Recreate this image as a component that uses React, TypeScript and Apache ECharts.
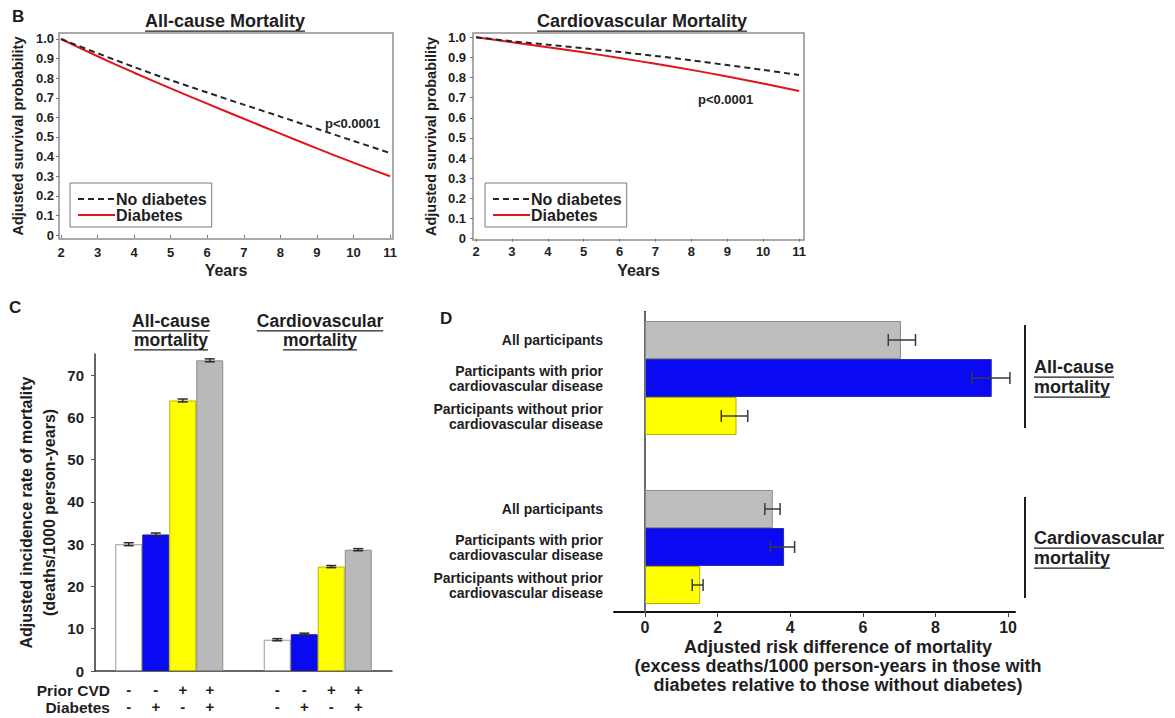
import React, { useEffect, useRef } from 'react';
import * as echarts from 'echarts';

const FONT = '"Liberation Sans", Arial, sans-serif';
const INK = '#1e1e1e';

// ---------- Panel B: adjusted survival curves ----------
const years = [2, 3, 4, 5, 6, 7, 8, 9, 10, 11];
const survivalTicks = [0, 0.1, 0.2, 0.3, 0.4, 0.5, 0.6, 0.7, 0.8, 0.9, 1.0];
const allCauseNoDiabetes = [1.0, 0.927, 0.857, 0.79, 0.727, 0.665, 0.604, 0.542, 0.48, 0.418];
const allCauseDiabetes = [1.0, 0.912, 0.828, 0.748, 0.67, 0.593, 0.517, 0.442, 0.369, 0.3];
const cvNoDiabetes = [1.0, 0.98, 0.963, 0.945, 0.927, 0.907, 0.885, 0.862, 0.838, 0.812];
const cvDiabetes = [1.0, 0.975, 0.95, 0.925, 0.897, 0.868, 0.838, 0.805, 0.77, 0.733];

// ---------- Panel C: adjusted incidence rates ----------
const incidenceGroups = ['All-cause mortality', 'Cardiovascular mortality'];
const priorCVD = ['-', '-', '+', '+'];
const diabetesFlags = ['-', '+', '-', '+'];
const incidenceNoCvdNoDm = [30.0, 7.4];
const incidenceNoCvdDm = [32.3, 8.7];
const incidenceCvdNoDm = [64.0, 24.7];
const incidenceCvdDm = [73.5, 28.7];
const incidenceErr = [0.35, 0.25];
const incidenceTicks = [0, 10, 20, 30, 40, 50, 60, 70];

// ---------- Panel D: adjusted risk difference ----------
const rdCategories = [
  'All participants',
  'Participants with prior\ncardiovascular disease',
  'Participants without prior\ncardiovascular disease',
];
const rdAllCause = [7.05, 9.55, 2.52];
const rdAllCauseLow = [6.7, 9.0, 2.1];
const rdAllCauseHigh = [7.45, 10.05, 2.83];
const rdCv = [3.52, 3.83, 1.52];
const rdCvLow = [3.3, 3.45, 1.3];
const rdCvHigh = [3.72, 4.12, 1.6];
const rdTicks = [0, 2, 4, 6, 8, 10];

const barFills = ['#ffffff', '#0a0af2', '#ffff00', '#b9b9b9'];
const barBorders = ['#9a9a9a', '#1a1a9a', '#b8b800', '#8c8c8c'];
const rdFills = ['#bdbdbd', '#0a0af2', '#ffff00'];
const rdBorders = ['#8c8c8c', '#2a2ab0', '#b0b000'];

function measure(text: string, size: number): number {
  const ctx = document.createElement('canvas').getContext('2d');
  if (!ctx) return text.length * size * 0.6;
  ctx.font = `bold ${size}px ${FONT}`;
  return ctx.measureText(text).width;
}

function txt(text: string, x: number, y: number, size: number, align = 'left', extra: any = {}) {
  return {
    type: 'text',
    x,
    y,
    silent: true,
    style: {
      text,
      fill: INK,
      fontSize: size,
      fontWeight: 'bold',
      fontFamily: FONT,
      align,
      textAlign: align,
      verticalAlign: 'middle',
      textVerticalAlign: 'middle',
      ...extra,
    },
  };
}

function uText(text: string, x: number, y: number, size: number, align = 'center') {
  const w = measure(text, size);
  const x0 = align === 'center' ? x - w / 2 : x;
  const uy = y + size * 0.56;
  return [
    txt(text, x, y, size, align),
    {
      type: 'line',
      silent: true,
      shape: { x1: x0, y1: uy, x2: x0 + w, y2: uy },
      style: { stroke: INK, lineWidth: 1.3 },
    },
  ];
}

const tickLabelStyle = (size: number) => ({
  fontSize: size,
  fontWeight: 'bold' as const,
  fontFamily: FONT,
  color: INK,
});

export default function App() {
  const ref = useRef<HTMLDivElement>(null);

  useEffect(() => {
    if (!ref.current) return;
    const chart = echarts.init(ref.current, undefined, { renderer: 'svg' });

    const pair = (arr: number[]) => years.map((y, i) => [y, arr[i]]);

    const survFmt = (v: number) => (Math.abs(v) < 1e-9 ? '0' : v.toFixed(1));

    const survivalX = (gridIndex: number, min: number, max: number, margin: number, gap: number) => ({
      gridIndex,
      type: 'value',
      min,
      max,
      axisLine: { show: false },
      splitLine: { show: false },
      axisTick: { show: true, customValues: years, length: 3, lineStyle: { color: '#777' } },
      axisLabel: { customValues: years, margin, ...tickLabelStyle(13) },
      name: 'Years',
      nameLocation: 'middle',
      nameGap: gap,
      nameTextStyle: tickLabelStyle(16),
    });
    const survivalY = (gridIndex: number, min: number, max: number, margin: number, gap: number) => ({
      gridIndex,
      type: 'value',
      min,
      max,
      axisLine: { show: false },
      splitLine: { show: false },
      axisTick: { show: true, customValues: survivalTicks, length: 3, lineStyle: { color: '#777' } },
      axisLabel: { customValues: survivalTicks, formatter: survFmt, margin, ...tickLabelStyle(13) },
      name: 'Adjusted survival probability',
      nameLocation: 'middle',
      nameRotate: 90,
      nameGap: gap,
      nameTextStyle: tickLabelStyle(14.5),
    });

    const lineSeries = (name: string, data: number[], gi: number, dashed: boolean) => ({
      name,
      type: 'line',
      xAxisIndex: gi,
      yAxisIndex: gi,
      data: pair(data),
      symbol: 'none',
      smooth: 0.3,
      z: dashed ? 3 : 2,
      lineStyle: dashed
        ? { color: '#262626', width: 2, type: [6, 4] }
        : { color: '#e3121b', width: 2, type: 'solid' },
      itemStyle: { color: dashed ? '#262626' : '#e3121b' },
    });

    const legendBox = (left: number) => ({
      left,
      top: 183,
      orient: 'vertical',
      selectedMode: false,
      data: ['No diabetes', 'Diabetes'],
      backgroundColor: '#ffffff',
      borderColor: '#7a7a7a',
      borderWidth: 1,
      padding: [8, 5, 4, 7],
      itemWidth: 37,
      itemHeight: 14,
      itemGap: 0,
      itemStyle: { opacity: 0 },
      textStyle: { ...tickLabelStyle(16), lineHeight: 16, padding: [0, 0, 0, -4] },
    });

    const barSets = [incidenceNoCvdNoDm, incidenceNoCvdDm, incidenceCvdNoDm, incidenceCvdDm];
    const BAR_W = 27;

    const incidenceBars = barSets.map((vals, k) => ({
      type: 'bar',
      xAxisIndex: 2,
      yAxisIndex: 2,
      data: vals,
      barWidth: BAR_W,
      barGap: '0%',
      itemStyle: { color: barFills[k], borderColor: barBorders[k], borderWidth: 1 },
      label: {
        show: true,
        position: 'bottom',
        distance: 10,
        formatter: () => `${priorCVD[k]}\n${diabetesFlags[k]}`,
        ...tickLabelStyle(15),
        lineHeight: 17,
      },
    }));

    const incidenceErrData: number[][] = [];
    incidenceGroups.forEach((_, g) => {
      barSets.forEach((vals, k) => incidenceErrData.push([g, k, vals[g], incidenceErr[g]]));
    });

    const incidenceErrSeries = {
      type: 'custom',
      xAxisIndex: 2,
      yAxisIndex: 2,
      data: incidenceErrData,
      encode: { x: 0, y: 2 },
      z: 5,
      renderItem: (_p: any, api: any) => {
        const g = api.value(0);
        const k = api.value(1);
        const v = api.value(2);
        const e = api.value(3);
        const c = api.coord([g, v]);
        const x = c[0] + (k - 1.5) * BAR_W;
        const yt = api.coord([g, v + e])[1];
        const yb = api.coord([g, v - e])[1];
        const st = { stroke: '#2a2a2a', lineWidth: 1.5 };
        return {
          type: 'group',
          children: [
            { type: 'line', shape: { x1: x, y1: yt, x2: x, y2: yb }, style: st },
            { type: 'line', shape: { x1: x - 5, y1: yt, x2: x + 5, y2: yt }, style: st },
            { type: 'line', shape: { x1: x - 5, y1: yb, x2: x + 5, y2: yb }, style: st },
          ],
        };
      },
    };

    const rdBar = (vals: number[], gi: number) => ({
      type: 'bar',
      xAxisIndex: gi,
      yAxisIndex: gi,
      barCategoryGap: '0%',
      data: vals.map((v, i) => ({
        value: v,
        itemStyle: { color: rdFills[i], borderColor: rdBorders[i], borderWidth: 1 },
      })),
    });

    const rdErr = (lo: number[], hi: number[], gi: number) => ({
      type: 'custom',
      xAxisIndex: gi,
      yAxisIndex: gi,
      z: 5,
      data: lo.map((l, i) => [l, hi[i], i]),
      encode: { x: [0, 1], y: 2 },
      renderItem: (_p: any, api: any) => {
        const a = api.coord([api.value(0), api.value(2)]);
        const b = api.coord([api.value(1), api.value(2)]);
        const h = 6;
        const st = { stroke: '#3a3a3a', lineWidth: 1.5 };
        return {
          type: 'group',
          children: [
            { type: 'line', shape: { x1: a[0], y1: a[1], x2: b[0], y2: b[1] }, style: st },
            { type: 'line', shape: { x1: a[0], y1: a[1] - h, x2: a[0], y2: a[1] + h }, style: st },
            { type: 'line', shape: { x1: b[0], y1: b[1] - h, x2: b[0], y2: b[1] + h }, style: st },
          ],
        };
      },
    });

    const rdCatAxis = (gridIndex: number) => ({
      gridIndex,
      type: 'category',
      data: rdCategories,
      inverse: true,
      axisLine: { show: false },
      axisTick: { show: false },
      splitLine: { show: false },
      axisLabel: { ...tickLabelStyle(14), lineHeight: 15, margin: 11, align: 'right' },
    });
    const rdHiddenX = (gridIndex: number) => ({
      gridIndex,
      type: 'value',
      min: -0.854,
      max: 10.19,
      show: false,
      splitLine: { show: false },
    });

    const graphics: any[] = [
      txt('B', 12, 16, 17),
      ...uText('All-cause Mortality', 225, 21, 18),
      ...uText('Cardiovascular Mortality', 642, 21, 18),
      txt('p<0.0001', 325, 123, 13),
      txt('p<0.0001', 698, 99, 13),
      txt('C', 9, 307, 17),
      ...uText('All-cause', 171, 321, 17.5),
      ...uText('mortality', 171, 340, 17.5),
      ...uText('Cardiovascular', 320, 321, 17.5),
      ...uText('mortality', 320, 340, 17.5),
      txt('Prior CVD', 110, 690, 15.5, 'right'),
      txt('Diabetes', 110, 707, 15.5, 'right'),
      txt('D', 440, 318, 17),
      {
        type: 'line',
        silent: true,
        shape: { x1: 1025, y1: 325, x2: 1025, y2: 428 },
        style: { stroke: INK, lineWidth: 2 },
      },
      {
        type: 'line',
        silent: true,
        shape: { x1: 1025, y1: 497, x2: 1025, y2: 598 },
        style: { stroke: INK, lineWidth: 2 },
      },
      ...uText('All-cause', 1034, 367, 18, 'left'),
      ...uText('mortality', 1034, 387, 18, 'left'),
      ...uText('Cardiovascular', 1034, 538, 18, 'left'),
      ...uText('mortality', 1034, 558, 18, 'left'),
      txt(
        'Adjusted risk difference of mortality\n(excess deaths/1000 person-years in those with\ndiabetes relative to those without diabetes)',
        838,
        666,
        18,
        'center',
        { lineHeight: 19 }
      ),
    ];

    const option: any = {
      animation: false,
      backgroundColor: '#ffffff',
      textStyle: { fontFamily: FONT },
      grid: [
        { left: 59, top: 33, width: 334, height: 206, show: true, borderColor: '#8f8f8f', borderWidth: 1.5 },
        { left: 473, top: 33, width: 331, height: 207, show: true, borderColor: '#8f8f8f', borderWidth: 1.5 },
        { left: 95, top: 354, width: 297, height: 317 },
        { left: 614, top: 312, width: 401, height: 300 },
        { left: 614, top: 321, width: 401, height: 114 },
        { left: 614, top: 490, width: 401, height: 114 },
      ],
      xAxis: [
        survivalX(0, 1.945, 11.082, 7, 23),
        survivalX(1, 1.916, 11.139, 5, 22),
        {
          gridIndex: 2,
          type: 'category',
          data: incidenceGroups,
          axisLine: { show: true, lineStyle: { color: '#333', width: 1.5 } },
          axisTick: { show: false },
          axisLabel: { show: false },
          splitLine: { show: false },
        },
        {
          gridIndex: 3,
          type: 'value',
          min: -0.854,
          max: 10.19,
          axisLine: { show: true, lineStyle: { color: '#111', width: 2 } },
          axisTick: { show: true, customValues: rdTicks, length: 5, lineStyle: { color: '#444' } },
          axisLabel: { customValues: rdTicks, margin: 7, ...tickLabelStyle(16) },
          splitLine: { show: false },
        },
        rdHiddenX(4),
        rdHiddenX(5),
      ],
      yAxis: [
        survivalY(0, -0.0204, 1.0306, 5, 34),
        survivalY(1, -0.0065, 1.021, 7, 35),
        {
          gridIndex: 2,
          type: 'value',
          min: 0,
          max: 75,
          axisLine: { show: true, lineStyle: { color: '#333', width: 1.5 } },
          axisTick: { show: true, customValues: incidenceTicks, length: 4, lineStyle: { color: '#555' } },
          axisLabel: { customValues: incidenceTicks, margin: 11, ...tickLabelStyle(15) },
          splitLine: { show: false },
          name: 'Adjusted incidence rate of mortality\n(deaths/1000 person-years)',
          nameLocation: 'middle',
          nameRotate: 90,
          nameGap: 34,
          nameTextStyle: { ...tickLabelStyle(16), lineHeight: 23 },
        },
        {
          gridIndex: 3,
          type: 'value',
          min: 0,
          max: 1,
          axisLine: { show: true, lineStyle: { color: '#111', width: 2 } },
          axisTick: { show: false },
          axisLabel: { show: false },
          splitLine: { show: false },
        },
        rdCatAxis(4),
        rdCatAxis(5),
      ],
      legend: [legendBox(70), legendBox(485)],
      series: [
        lineSeries('No diabetes', allCauseNoDiabetes, 0, true),
        lineSeries('Diabetes', allCauseDiabetes, 0, false),
        lineSeries('No diabetes', cvNoDiabetes, 1, true),
        lineSeries('Diabetes', cvDiabetes, 1, false),
        ...incidenceBars,
        incidenceErrSeries,
        {
          type: 'line',
          xAxisIndex: 3,
          yAxisIndex: 3,
          data: [],
          markLine: {
            silent: true,
            symbol: ['none', 'none'],
            label: { show: false },
            lineStyle: { color: '#8a8a8a', width: 1.5, type: 'solid' },
            data: [{ xAxis: 0 }],
          },
        },
        rdBar(rdAllCause, 4),
        rdBar(rdCv, 5),
        rdErr(rdAllCauseLow, rdAllCauseHigh, 4),
        rdErr(rdCvLow, rdCvHigh, 5),
      ],
      graphic: graphics,
    };

    chart.setOption(option);
    return () => chart.dispose();
  }, []);

  return (
    <div
      ref={ref}
      style={{ position: 'absolute', left: 0, top: 0, width: 1175, height: 718, background: '#fff' }}
    />
  );
}
